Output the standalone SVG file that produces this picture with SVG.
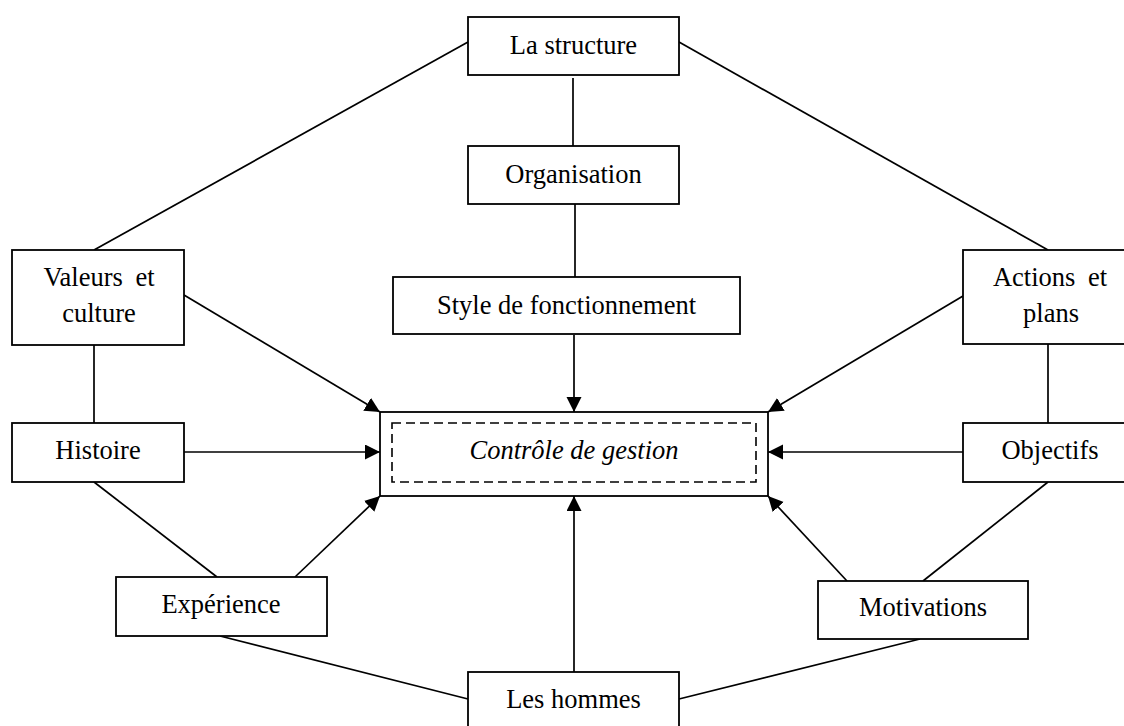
<svg xmlns="http://www.w3.org/2000/svg" width="1124" height="726" viewBox="0 0 1124 726">
  <style>
    .box { fill: #fff; stroke: #000; stroke-width: 1.8; }
    .dash { fill: none; stroke: #000; stroke-width: 1.6; stroke-dasharray: 9 5; }
    .lbl { font-family: "Liberation Serif", "Times New Roman", serif; font-size: 26.5px; fill: #000; text-anchor: middle; }
    .it { font-style: italic; }
    .ln { stroke: #000; stroke-width: 1.7; fill: none; }
    .arr { stroke: #000; stroke-width: 1.7; fill: none; marker-end: url(#head); }
  </style>
  <defs>
    <marker id="head" markerUnits="userSpaceOnUse" markerWidth="16" markerHeight="16" refX="15" refY="7.5" orient="auto">
      <path d="M0,0 L15,7.5 L0,15 Z" fill="#000"/>
    </marker>
  </defs>
  <rect width="1124" height="726" fill="#fff"/>

  <!-- connectors -->
  <g id="connectors">
    <line class="ln" x1="468" y1="42" x2="94" y2="250"/>
    <line class="ln" x1="679" y1="42" x2="1048" y2="250"/>
    <line class="ln" x1="573" y1="78" x2="573" y2="146"/>
    <line class="ln" x1="575" y1="204" x2="575" y2="277"/>
    <line class="ln" x1="94" y1="345" x2="94" y2="423"/>
    <line class="ln" x1="1048" y1="344" x2="1048" y2="423"/>
    <line class="ln" x1="94" y1="482" x2="217" y2="577"/>
    <line class="ln" x1="1048" y1="482" x2="923" y2="581"/>
    <line class="ln" x1="220" y1="636" x2="468" y2="699"/>
    <line class="ln" x1="920" y1="639" x2="679" y2="699"/>
    <line class="arr" x1="574" y1="335" x2="574" y2="412"/>
    <line class="arr" x1="184" y1="295" x2="380" y2="412"/>
    <line class="arr" x1="184" y1="452" x2="380" y2="452"/>
    <line class="arr" x1="295" y1="577" x2="380" y2="496"/>
    <line class="arr" x1="574" y1="672" x2="574" y2="496"/>
    <line class="arr" x1="963" y1="296" x2="768" y2="412"/>
    <line class="arr" x1="963" y1="452" x2="768" y2="452"/>
    <line class="arr" x1="847" y1="581" x2="768" y2="496"/>
  </g>

  <g id="structure">
    <rect class="box" x="468" y="17" width="211" height="58"/>
    <text class="lbl" x="573.5" y="54">La structure</text>
  </g>
  <g id="organisation">
    <rect class="box" x="468" y="146" width="211" height="58"/>
    <text class="lbl" x="573.5" y="183">Organisation</text>
  </g>
  <g id="style-fonctionnement">
    <rect class="box" x="393" y="277" width="347" height="57"/>
    <text class="lbl" x="566.5" y="314">Style de fonctionnement</text>
  </g>
  <g id="valeurs-culture">
    <rect class="box" x="12" y="250" width="172" height="95"/>
    <text class="lbl" x="99" y="286" word-spacing="6">Valeurs et</text>
    <text class="lbl" x="99" y="322">culture</text>
  </g>
  <g id="histoire">
    <rect class="box" x="12" y="423" width="172" height="59"/>
    <text class="lbl" x="98" y="459">Histoire</text>
  </g>
  <g id="actions-plans">
    <rect class="box" x="963" y="250" width="180" height="94"/>
    <text class="lbl" x="1050" y="286" word-spacing="6">Actions et</text>
    <text class="lbl" x="1051" y="322">plans</text>
  </g>
  <g id="objectifs">
    <rect class="box" x="963" y="423" width="180" height="59"/>
    <text class="lbl" x="1050" y="459">Objectifs</text>
  </g>
  <g id="controle-gestion">
    <rect class="box" x="380" y="412" width="388" height="84"/>
    <rect class="dash" x="392" y="423" width="364" height="59"/>
    <text class="lbl it" x="574" y="459">Contrôle de gestion</text>
  </g>
  <g id="experience">
    <rect class="box" x="116" y="577" width="211" height="59"/>
    <text class="lbl" x="221" y="613">Expérience</text>
  </g>
  <g id="motivations">
    <rect class="box" x="818" y="581" width="210" height="58"/>
    <text class="lbl" x="923" y="616">Motivations</text>
  </g>
  <g id="hommes">
    <rect class="box" x="468" y="672" width="211" height="70"/>
    <text class="lbl" x="573.5" y="708">Les hommes</text>
  </g>
</svg>
